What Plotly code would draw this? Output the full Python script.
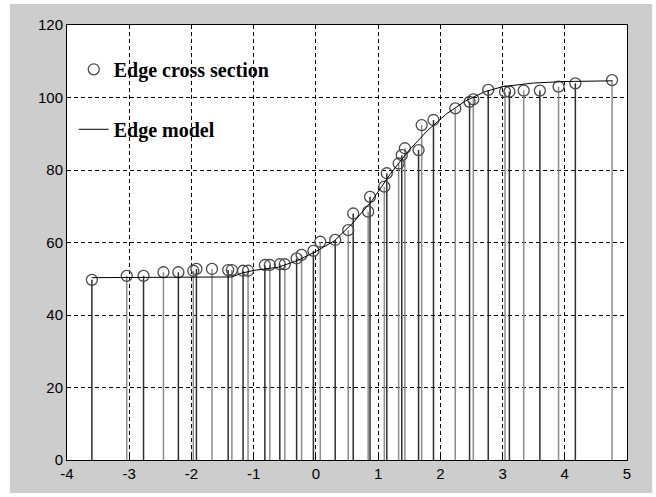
import plotly.graph_objects as go

# Edge cross section samples
sample_x = [-3.60, -3.04, -2.77, -2.45, -2.21, -1.97, -1.92, -1.67, -1.41, -1.35,
            -1.17, -1.09, -0.82, -0.74, -0.58, -0.50, -0.31, -0.23, -0.04, 0.07,
            0.31, 0.52, 0.60, 0.84, 0.87, 1.10, 1.14, 1.33, 1.38, 1.43,
            1.65, 1.70, 1.89, 2.24, 2.47, 2.53, 2.77, 3.04, 3.11, 3.34,
            3.60, 3.90, 4.17, 4.76]
sample_y = [49.7, 50.8, 50.8, 51.8, 51.8, 52.2, 52.7, 52.7, 52.4, 52.4,
            52.2, 52.2, 53.8, 53.8, 54.0, 54.0, 55.6, 56.6, 57.7, 60.2,
            60.7, 63.4, 68.0, 68.5, 72.6, 75.4, 79.1, 81.8, 84.1, 86.0,
            85.5, 92.4, 93.8, 97.0, 98.8, 99.5, 102.1, 101.6, 101.6, 101.9,
            101.9, 103.0, 103.9, 104.8]

# Edge model curve
model_x = [-3.6, -1.35, -1.2, -1.0, -0.6, -0.3, 0.0, 0.3, 0.6, 0.9, 1.2, 1.5,
           1.8, 2.1, 2.4, 2.7, 3.0, 3.5, 4.0, 4.76]
model_y = [50.3, 50.5, 51.5, 52.3, 53.2, 55.0, 57.5, 60.5, 65.5, 71.5, 79.0, 85.5,
           91.0, 95.5, 99.0, 101.5, 103.0, 104.0, 104.4, 104.6]

x_ticks = [-4, -3, -2, -1, 0, 1, 2, 3, 4, 5]
y_ticks = [0, 20, 40, 60, 80, 100, 120]

fig = go.Figure()

# stems, split into two shades
for parity, col in [(0, "#2e2e2e"), (1, "#8c8c8c")]:
    sx, sy = [], []
    for i, (x, y) in enumerate(zip(sample_x, sample_y)):
        if i % 2 == parity:
            sx += [x, x, None]
            sy += [0, y, None]
    fig.add_trace(go.Scatter(x=sx, y=sy, mode="lines",
                             line=dict(color=col, width=1.5),
                             showlegend=False, hoverinfo="skip"))

fig.add_trace(go.Scatter(x=sample_x, y=sample_y, mode="markers",
                         name="Edge cross section", legendgroup="a",
                         marker=dict(symbol="circle-open", size=11,
                                     color="#4a4a4a", line=dict(width=1.3))))
fig.add_trace(go.Scatter(x=model_x, y=model_y, mode="lines",
                         name="Edge model", legendgroup="b",
                         line=dict(color="black", width=1)))

fig.update_layout(
    width=656, height=497,
    margin=dict(l=67, r=29, t=25, b=37),
    paper_bgcolor="white",
    plot_bgcolor="rgba(0,0,0,0)",
    shapes=[
        dict(type="rect", xref="paper", yref="paper", x0=-0.102, x1=1.045,
             y0=-0.076, y1=1.048, fillcolor="#cdcdcd", line=dict(width=0),
             layer="below"),
        dict(type="rect", xref="paper", yref="paper", x0=0, x1=1,
             y0=0, y1=1, fillcolor="white", line=dict(width=0),
             layer="below"),
    ],
    showlegend=True,
    legend=dict(x=0.012, y=0.943, xanchor="left", yanchor="top",
                bgcolor="rgba(0,0,0,0)", borderwidth=0,
                traceorder="grouped", tracegroupgap=31,
                font=dict(family="Liberation Serif", size=20, color="black",
                          weight="bold"),
                itemwidth=30),
    font=dict(family="Liberation Sans", size=15, color="black"),
)
fig.update_xaxes(range=[-4, 5], tickvals=x_ticks, ticktext=[str(v) for v in x_ticks],
                 showgrid=True, gridcolor="black", gridwidth=1, griddash="4px,3px",
                 zeroline=False, showline=True, linecolor="black", linewidth=1,
                 mirror=True, ticks="inside", ticklen=4, tickcolor="black")
fig.update_yaxes(range=[0, 120], tickvals=y_ticks, ticktext=[str(v) for v in y_ticks],
                 showgrid=True, gridcolor="black", gridwidth=1, griddash="4px,3px",
                 zeroline=False, showline=True, linecolor="black", linewidth=1,
                 mirror=True, ticks="inside", ticklen=4, tickcolor="black")

fig.write_html("out.html", config={"displayModeBar": False},
               post_script="document.body.style.margin='0px';")
